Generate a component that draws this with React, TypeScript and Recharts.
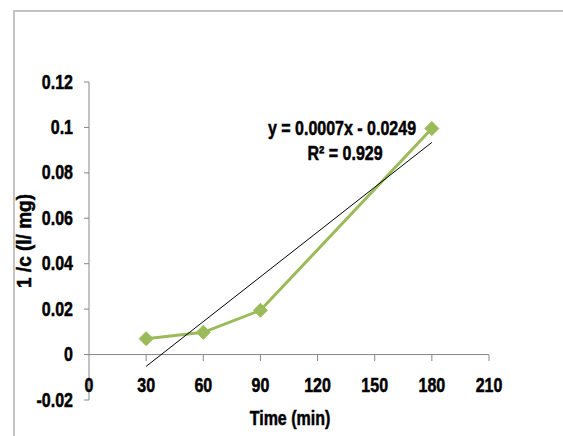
import React from 'react'
import { LineChart, Line, XAxis, YAxis, ReferenceLine } from 'recharts'

const times = [30, 60, 90, 180]
const invConc = [0.007, 0.0098, 0.0195, 0.0995]
const trendTimes = [30, 180]
const trendValues = [-0.0052, 0.0934]
const xTicks = [0, 30, 60, 90, 120, 150, 180, 210]
const yTicks = [-0.02, 0, 0.02, 0.04, 0.06, 0.08, 0.1, 0.12]
const equation = 'y = 0.0007x - 0.0249'
const rSquared = 'R² = 0.929'
const xTitle = 'Time (min)'
const yTitle = '1 /c (l/ mg)'

const FONT = "'Liberation Sans', Arial, sans-serif"
const AXIS = '#868686'
const GREEN = '#9bbb59'

const seriesData = times.map((t, i) => ({ x: t, y: invConc[i] }))
const trendData = trendTimes.map((t, i) => ({ x: t, y: trendValues[i] }))

// squeezed heavy text, the picture uses a very narrow bold face
const Narrow = ({ x, y, anchor = 'middle', rotate = 0, sx = 0.8, size = 20, children }: any) => (
  <text
    transform={`translate(${x},${y}) rotate(${rotate}) scale(${sx},1)`}
    textAnchor={anchor}
    dominantBaseline="central"
    fontFamily={FONT}
    fontWeight="bold"
    fontSize={size}
    fill="#000"
    stroke="#000"
    strokeWidth={0.5}
  >
    {children}
  </text>
)

const Diamond = (props: any) => {
  const { cx, cy } = props
  if (cx == null || cy == null) return null
  const s = 7
  return (
    <polygon
      points={`${cx},${cy - s} ${cx + s},${cy} ${cx},${cy + s} ${cx - s},${cy}`}
      fill={GREEN}
      stroke={GREEN}
    />
  )
}

// x labels sit just under the zero line (Excel style), not at the plot bottom
const XTick = (props: any) => {
  const { x, y, payload } = props
  return (
    <g>
      {payload.value !== 0 && <line x1={x} x2={x} y1={y - 45} y2={y - 39} stroke={AXIS} />}
      <Narrow x={x} y={y - 15}>{payload.value}</Narrow>
    </g>
  )
}

const YTick = (props: any) => {
  const { x, y, payload } = props
  return <Narrow x={x} y={y} anchor="end">{String(payload.value)}</Narrow>
}

export default function App() {
  return (
    <div style={{ position: 'absolute', left: 0, top: 0, width: 563, height: 436, background: '#fff', overflow: 'hidden' }}>
      <div style={{ position: 'absolute', left: 13, top: 10, width: 600, height: 500, borderLeft: '2px solid #c4c4c4', borderTop: '2px solid #c4c4c4' }} />
      <div style={{ position: 'absolute', left: 0, top: 0 }}>
        <LineChart width={563} height={436} margin={{ top: 82, right: 74, left: 0, bottom: 0 }}>
          <XAxis
            type="number"
            dataKey="x"
            domain={[0, 210]}
            ticks={xTicks}
            axisLine={false}
            tickLine={false}
            tickSize={0}
            tickMargin={0}
            height={36}
            tick={<XTick />}
            allowDataOverflow
          />
          <YAxis
            type="number"
            dataKey="y"
            domain={[-0.02, 0.12]}
            ticks={yTicks}
            width={89}
            axisLine={{ stroke: AXIS }}
            tickLine={{ stroke: AXIS }}
            tickSize={5}
            tickMargin={11}
            tick={<YTick />}
            allowDataOverflow
          />
          <ReferenceLine y={0} stroke={AXIS} />
          <Line
            data={seriesData}
            dataKey="y"
            stroke={GREEN}
            strokeWidth={3}
            dot={<Diamond />}
            isAnimationActive={false}
          />
          <Line
            data={trendData}
            dataKey="y"
            stroke="#000"
            strokeWidth={1}
            dot={false}
            isAnimationActive={false}
          />
        </LineChart>
      </div>
      <svg width={563} height={436} style={{ position: 'absolute', left: 0, top: 0, pointerEvents: 'none' }}>
        <Narrow x={342} y={128}>{equation}</Narrow>
        <Narrow x={345} y={153}>{rSquared}</Narrow>
        <Narrow x={290} y={418}>{xTitle}</Narrow>
        <Narrow x={24} y={241} rotate={-90} sx={0.95}>{yTitle}</Narrow>
      </svg>
    </div>
  )
}
